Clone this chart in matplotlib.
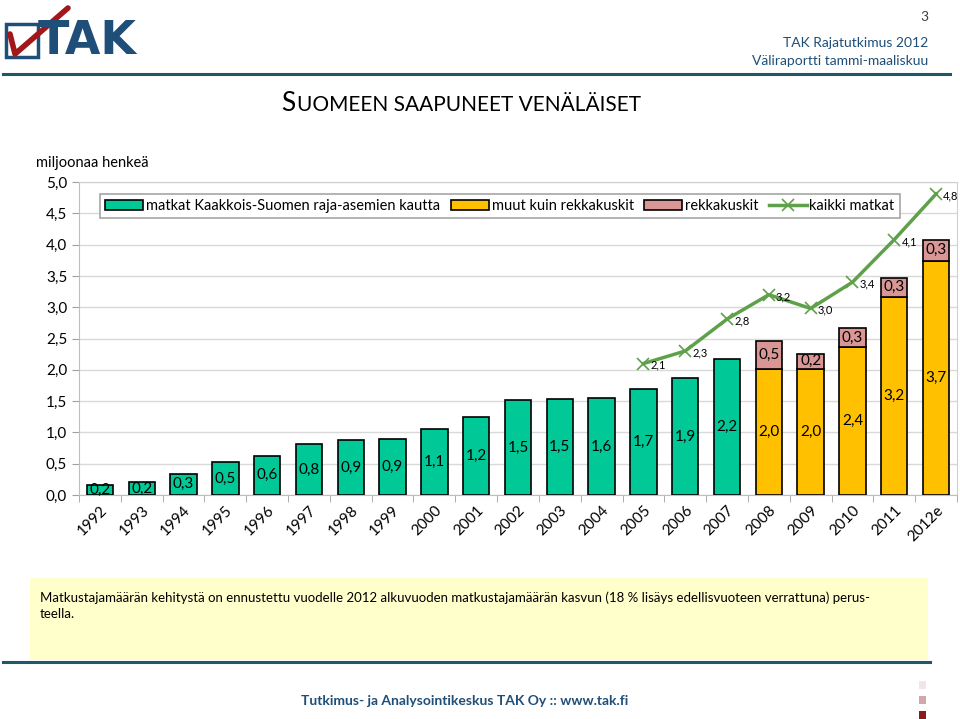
import matplotlib
matplotlib.use("Agg")
import matplotlib.pyplot as plt
import numpy as np
from matplotlib.patches import Rectangle
from matplotlib.lines import Line2D

plt.rcParams['font.family'] = ['Lato', 'DejaVu Sans']

years = ['1992', '1993', '1994', '1995', '1996', '1997', '1998', '1999', '2000', '2001',
         '2002', '2003', '2004', '2005', '2006', '2007', '2008', '2009', '2010', '2011', '2012e']
# matkat Kaakkois-Suomen raja-asemien kautta (1992-2007)
kaakkois = [0.16, 0.20, 0.34, 0.52, 0.63, 0.81, 0.88, 0.90, 1.05, 1.24,
            1.51, 1.53, 1.55, 1.69, 1.87, 2.18]
kaakkois_lbl = ['0,2', '0,2', '0,3', '0,5', '0,6', '0,8', '0,9', '0,9', '1,1', '1,2',
                '1,5', '1,5', '1,6', '1,7', '1,9', '2,2']
# muut kuin rekkakuskit / rekkakuskit (2008-2012e)
muut = [2.01, 2.01, 2.36, 3.17, 3.74]
muut_lbl = ['2,0', '2,0', '2,4', '3,2', '3,7']
rekka = [0.45, 0.25, 0.30, 0.30, 0.34]
rekka_lbl = ['0,5', '0,2', '0,3', '0,3', '0,3']
# kaikki matkat (2005-2012e)
kaikki = [2.10, 2.30, 2.81, 3.20, 2.98, 3.40, 4.08, 4.81]
kaikki_lbl = ['2,1', '2,3', '2,8', '3,2', '3,0', '3,4', '4,1', '4,8']

green = '#00C896'
yellow = '#FFC000'
pink = '#D99694'
linec = '#5FA14A'
navy = '#1F4E79'
teal = '#215868'

fig = plt.figure(figsize=(9.6, 7.19), dpi=100)

# ---- page header / footer ----
def px(x, y):
    return x / 960, 1 - y / 719

fig.add_artist(Line2D([px(3, 0)[0], px(950, 0)[0]], [px(0, 74)[1]] * 2, color=teal, lw=2.2))
fig.add_artist(Line2D([px(3, 0)[0], px(930, 0)[0]], [px(0, 662)[1]] * 2, color=teal, lw=2.2))

# logo
fig.add_artist(Rectangle(px(6, 57), 32 / 960, 33 / 719, fill=False, ec=navy, lw=2.5))
fig.text(*px(38, 41), 'TAK', fontsize=33, fontweight='black', color=navy,
         va='center', ha='left', family='DejaVu Sans')
fig.add_artist(Line2D([px(10, 0)[0], px(15, 0)[0], px(68, 0)[0]],
                      [px(0, 34)[1], px(0, 54)[1], px(0, 8)[1]], color='#A3161A', lw=4,
                      solid_capstyle='round'))

fig.text(*px(928, 17), '3', fontsize=10, color='#404040', ha='right', va='center')
fig.text(*px(928, 43), 'TAK Rajatutkimus 2012', fontsize=10, color=navy, ha='right', va='center')
fig.text(*px(928, 61), 'Väliraportti tammi-maaliskuu', fontsize=10, color=navy, ha='right', va='center')

fig.text(*px(281, 111), 'S', fontsize=19, color='black', ha='left', va='baseline')
fig.text(*px(297, 111), 'UOMEEN SAAPUNEET VENÄLÄISET', fontsize=15, color='black',
         ha='left', va='baseline')

fig.text(*px(36, 163), 'miljoonaa henkeä', fontsize=10.5, color='black', ha='left', va='center')

fig.add_artist(Rectangle(px(30, 660), 898 / 960, 82 / 719, fc='#FFFFCC', ec='none', zorder=0))
fig.text(*px(40, 598), 'Matkustajamäärän kehitystä on ennustettu vuodelle 2012 alkuvuoden matkustajamäärän '
         'kasvun (18 % lisäys edellisvuoteen verrattuna) perus-', fontsize=9.5, ha='left', va='center')
fig.text(*px(40, 614), 'teella.', fontsize=9.5, ha='left', va='center')

fig.text(*px(465, 701), 'Tutkimus- ja Analysointikeskus TAK Oy :: www.tak.fi', fontsize=10,
         fontweight='bold', color=navy, ha='center', va='center')
for yy, c in [(685, '#F2E4EA'), (700, '#D4A5AA'), (715, '#8B1A1A')]:
    fig.add_artist(Rectangle(px(919, yy + 4), 7 / 960, 8 / 719, fc=c, ec='none'))

# ---- chart ----
ax = fig.add_axes([79 / 960, 224 / 719, 878 / 960, 313 / 719])
x = np.arange(len(years))
w = 0.63
n1 = len(kaakkois)
x1 = x[:n1]
x2 = x[n1:]
x3 = x[len(years) - len(kaikki):]

b1 = ax.bar(x1, kaakkois, w, color=green, edgecolor='black', lw=1.2, zorder=3,
            label='matkat Kaakkois-Suomen raja-asemien kautta')
b2 = ax.bar(x2, muut, w, color=yellow, edgecolor='black', lw=1.2, zorder=3,
            label='muut kuin rekkakuskit')
b3 = ax.bar(x2, rekka, w, bottom=muut, color=pink, edgecolor='black', lw=1.2, zorder=3,
            label='rekkakuskit')
l1, = ax.plot(x3, kaikki, color=linec, lw=2.5, marker='x', ms=8, mew=1.2, zorder=4,
              label='kaikki matkat')

for xi, v, t in zip(x1, kaakkois, kaakkois_lbl):
    ax.text(xi, max(v / 2, 0.08), t, ha='center', va='center', fontsize=11, zorder=5)
for xi, v, t in zip(x2, muut, muut_lbl):
    ax.text(xi, v / 2, t, ha='center', va='center', fontsize=11, zorder=5)
for xi, b, v, t in zip(x2, muut, rekka, rekka_lbl):
    ax.text(xi, b + v / 2, t, ha='center', va='center', fontsize=11, zorder=5)
for xi, v, t in zip(x3, kaikki, kaikki_lbl):
    ax.text(xi + 0.17, v - 0.03, t, ha='left', va='center', fontsize=8, zorder=5)

ax.set_xlim(-0.5, len(years) - 0.5)
ax.set_ylim(0, 5)
ax.set_yticks(np.arange(0, 5.01, 0.5))
ax.set_yticklabels([f'{v:.1f}'.replace('.', ',') for v in np.arange(0, 5.01, 0.5)], fontsize=11)
ax.set_xticks(x)
ax.set_xticklabels(years, rotation=45, ha='right', rotation_mode='anchor', fontsize=11)
ax.tick_params(axis='x', length=0, pad=6)
ax.set_xticks(np.arange(-0.5, len(years), 1), minor=True)
ax.tick_params(axis='x', which='minor', length=5, color='#A0A0A0')
ax.tick_params(axis='y', length=5, color='#A0A0A0', direction='out')
ax.grid(axis='y', color='#D9D9D9', lw=1, zorder=0)
for s in ax.spines.values():
    s.set_color('#BFBFBF')
ax.spines['top'].set_color('#D0D0D0')
ax.spines['right'].set_color('#D0D0D0')

leg = ax.legend([b1, b2, b3, l1], [h.get_label() for h in (b1, b2, b3, l1)],
                loc='upper left', bbox_to_anchor=(14 / 878, 0.985, 814 / 878, 0.0),
                ncol=4, mode='expand', fontsize=10.5, frameon=True, fancybox=False,
                edgecolor='#A6A6A6', handlelength=2.6, handletextpad=0.2, borderpad=0.35,
                columnspacing=1.2, framealpha=1)
leg.get_frame().set_linewidth(1.2)

fig.savefig('out.png', dpi=100)
